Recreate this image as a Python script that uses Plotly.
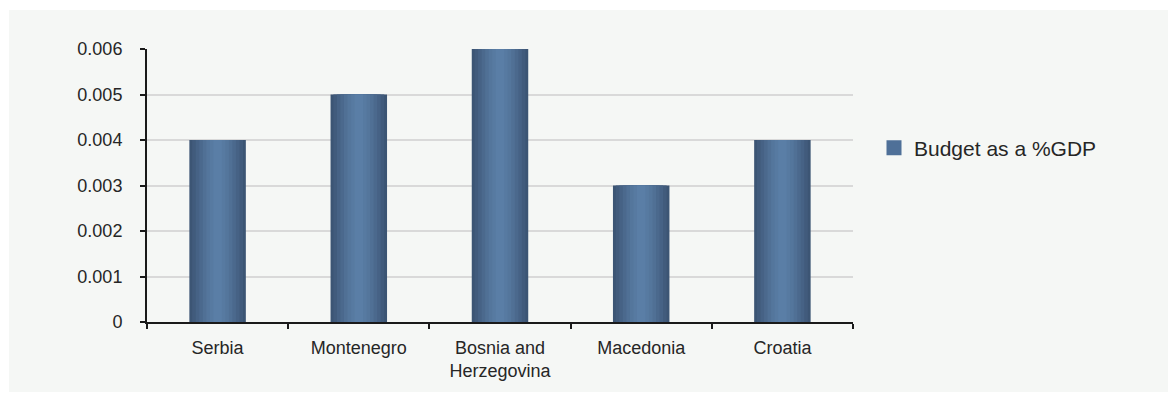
import plotly.graph_objects as go

countries = ["Serbia", "Montenegro", "Bosnia and<br>Herzegovina", "Macedonia", "Croatia"]
budget_pct_gdp = [0.004, 0.005, 0.006, 0.003, 0.004]
series_name = "Budget as a %GDP"
y_tick_vals = [0, 0.001, 0.002, 0.003, 0.004, 0.005, 0.006]
y_tick_text = ["0", "0.001", "0.002", "0.003", "0.004", "0.005", "0.006"]

W, H = 1169, 393
ML, MR, MT, MB = 147, 316, 49, 71
pw, ph = W - ML - MR, H - MT - MB

FONT = "Liberation Sans, Arial, sans-serif"
TXT = "#262626"

# gradient layers (outer dark -> inner light) to imitate shaded bars
layers = [
    (0.40, "#3c5574"),
    (0.36, "#415b7c"),
    (0.31, "#466285"),
    (0.26, "#4b698d"),
    (0.21, "#507095"),
    (0.16, "#54769c"),
    (0.11, "#577aa1"),
    (0.06, "#5a7ea6"),
]

fig = go.Figure()
for i, (w, c) in enumerate(layers):
    fig.add_trace(go.Bar(
        x=countries, y=budget_pct_gdp, width=w,
        marker=dict(color=c, line=dict(width=0)),
        name=series_name, showlegend=False, hoverinfo="skip" if i else None,
    ))
# legend entry
fig.add_trace(go.Scatter(
    x=countries, y=[None] * len(countries), name=series_name, mode="markers",
    marker=dict(color="#4f7098", symbol="square", size=15, line=dict(width=0)),
    showlegend=True,
))

def px_x(p):
    return (p - ML) / pw

def px_y(p):
    return (H - MB - p) / ph

fig.update_layout(
    width=W, height=H,
    margin=dict(l=ML, r=MR, t=MT, b=MB),
    paper_bgcolor="white",
    plot_bgcolor="rgba(0,0,0,0)",
    barmode="overlay",
    font=dict(family=FONT, size=18, color=TXT),
    shapes=[dict(
        type="rect", xref="paper", yref="paper", layer="below",
        x0=px_x(9), x1=px_x(1168), y0=px_y(392), y1=px_y(10),
        fillcolor="#f5f7f5", line=dict(width=0),
    )],
    legend=dict(
        x=px_x(874), y=px_y(148), xanchor="left", yanchor="middle",
        bgcolor="rgba(0,0,0,0)", font=dict(family=FONT, size=21, color=TXT),
        itemsizing="trace",
    ),
    xaxis=dict(
        type="category", showline=True, linecolor="#1a1a1a", linewidth=2,
        ticks="outside", tickson="boundaries", ticklen=5, tickwidth=2, tickcolor="#1a1a1a",
        showgrid=False, ticklabelstandoff=8,
        tickfont=dict(family=FONT, size=18, color=TXT),
    ),
    yaxis=dict(
        range=[0, 0.006], tickvals=y_tick_vals, ticktext=y_tick_text,
        showline=True, linecolor="#1a1a1a", linewidth=2,
        ticks="outside", ticklen=5, tickwidth=2, tickcolor="#1a1a1a",
        showgrid=True, gridcolor="#d9d9d9", gridwidth=2, zeroline=False,
        ticklabelstandoff=14,
        tickfont=dict(family=FONT, size=18, color=TXT),
    ),
)

fig.write_html("out.html")
